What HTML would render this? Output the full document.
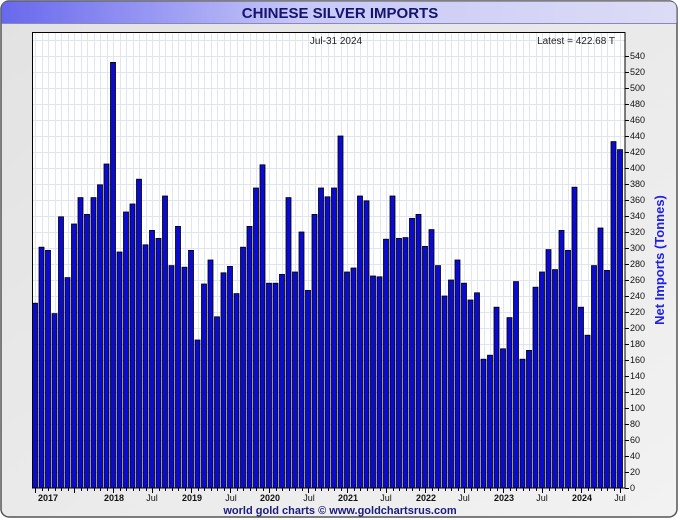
<!DOCTYPE html>
<html><head><meta charset="utf-8"><style>
body{margin:0;width:680px;height:520px;background:#fff;overflow:hidden}
svg{display:block;font-family:"Liberation Sans",sans-serif}
</style></head><body>
<svg id="s" width="680" height="520" viewBox="0 0 680 520">
<defs>
<linearGradient id="tg" x1="0" x2="1"><stop offset="0" stop-color="#6868ee"/><stop offset="0.45" stop-color="#c8c8f8"/><stop offset="1" stop-color="#dcdcf6"/></linearGradient>
<linearGradient id="bg" x1="0" y1="0" x2="1" y2="1"><stop offset="0" stop-color="#e2e2e2"/><stop offset="1" stop-color="#f2f2f2"/></linearGradient>
</defs>
<rect x="1" y="1" width="676" height="516" rx="8" fill="url(#bg)" stroke="#555" stroke-width="1.5"/>
<path d="M1.5 23 V9 Q1.5 1.5 9 1.5 H669 Q676.5 1.5 676.5 9 V23 Z" fill="url(#tg)"/>
<line x1="1.5" y1="23.5" x2="676.5" y2="23.5" stroke="#8888bb"/>
<text x="340" y="18" text-anchor="middle" font-size="15" font-weight="bold" fill="#141470">CHINESE SILVER IMPORTS</text>
<rect x="32" y="32" width="593" height="456" fill="#fff"/>
<g id="grid" stroke="#dfe6f0" stroke-width="1"></g>
<g id="bars" fill="#0a0ad0" stroke="#000" stroke-width="0.8"></g>
<rect x="32.5" y="32.5" width="592.5" height="455.5" fill="none" stroke="#000"/>
<g id="ticks" stroke="#000"></g>
<text x="336" y="44" text-anchor="middle" font-size="10" fill="#222">Jul-31  2024</text>
<text x="615" y="44" text-anchor="end" font-size="10" fill="#222">Latest = 422.68 T</text>
<g font-size="9" fill="#111">
<text x="630" y="491">0</text><text x="630" y="475">20</text><text x="630" y="459">40</text><text x="630" y="443">60</text><text x="630" y="427">80</text><text x="630" y="411">100</text><text x="630" y="395">120</text><text x="630" y="379">140</text><text x="630" y="363">160</text><text x="630" y="347">180</text><text x="630" y="331">200</text><text x="630" y="315">220</text><text x="630" y="299">240</text><text x="630" y="283">260</text><text x="630" y="267">280</text><text x="630" y="251">300</text><text x="630" y="235">320</text><text x="630" y="219">340</text><text x="630" y="203">360</text><text x="630" y="187">380</text><text x="630" y="171">400</text><text x="630" y="155">420</text><text x="630" y="139">440</text><text x="630" y="123">460</text><text x="630" y="107">480</text><text x="630" y="91">500</text><text x="630" y="75">520</text><text x="630" y="59">540</text>
</g>
<g font-size="9" fill="#111" font-weight="bold" text-anchor="middle">
<text x="48" y="501">2017</text><text x="114" y="501">2018</text><text x="152" y="501" font-weight="normal">Jul</text><text x="192" y="501">2019</text><text x="231" y="501" font-weight="normal">Jul</text><text x="270" y="501">2020</text><text x="309" y="501" font-weight="normal">Jul</text><text x="348" y="501">2021</text><text x="386" y="501" font-weight="normal">Jul</text><text x="426" y="501">2022</text><text x="464" y="501" font-weight="normal">Jul</text><text x="504" y="501">2023</text><text x="542" y="501" font-weight="normal">Jul</text><text x="582" y="501">2024</text><text x="620" y="501" font-weight="normal">Jul</text>
</g>
<text transform="translate(664 260) rotate(-90)" text-anchor="middle" font-size="13" font-weight="bold" fill="#2020e0">Net Imports (Tonnes)</text>
<text x="340" y="514" text-anchor="middle" font-size="11" font-weight="bold" fill="#1a1a80">world gold charts © www.goldchartsrus.com</text>
</svg>
<script>
var v=[231,301,297,218,339,263,330,363,342,363,379,405,
532,295,345,355,386,304,322,312,365,278,327,276,
297,185,255,285,214,269,277,243,301,327,375,404,
256,256,267,363,270,320,247,342,375,364,375,440,
270,275,365,359,265,264,311,365,312,313,337,342,
302,323,278,240,260,285,256,235,244,161,166,226,
174,213,258,161,172,251,270,298,273,322,297,376,
226,191,278,325,272,433,423];
var NS="http://www.w3.org/2000/svg";
function el(p,t,a){var e=document.createElementNS(NS,t);for(var k in a)e.setAttribute(k,a[k]);document.getElementById(p).appendChild(e);}
for(var i=0;i<92;i++){var x=Math.round(35+6.5*i)+0.5;if(x<625)el("grid","line",{x1:x,y1:33,x2:x,y2:488});}
for(var j=1;j<29;j++){var y=488-16*j+0.5;el("grid","line",{x1:33,y1:y,x2:625,y2:y});}
for(var i=0;i<v.length;i++){var c=35+6.5*i;el("bars","rect",{x:c-2.5,y:488-0.8*v[i],width:5,height:0.8*v[i]});
el("ticks","line",{x1:Math.round(c)+0.5,y1:488,x2:Math.round(c)+0.5,y2:(i%6==0?493:491)});}
for(var j=0;j<28;j++){var y=488-16*j+0.5;el("ticks","line",{x1:625,y1:y,x2:629,y2:y});}
</script>
</body></html>
